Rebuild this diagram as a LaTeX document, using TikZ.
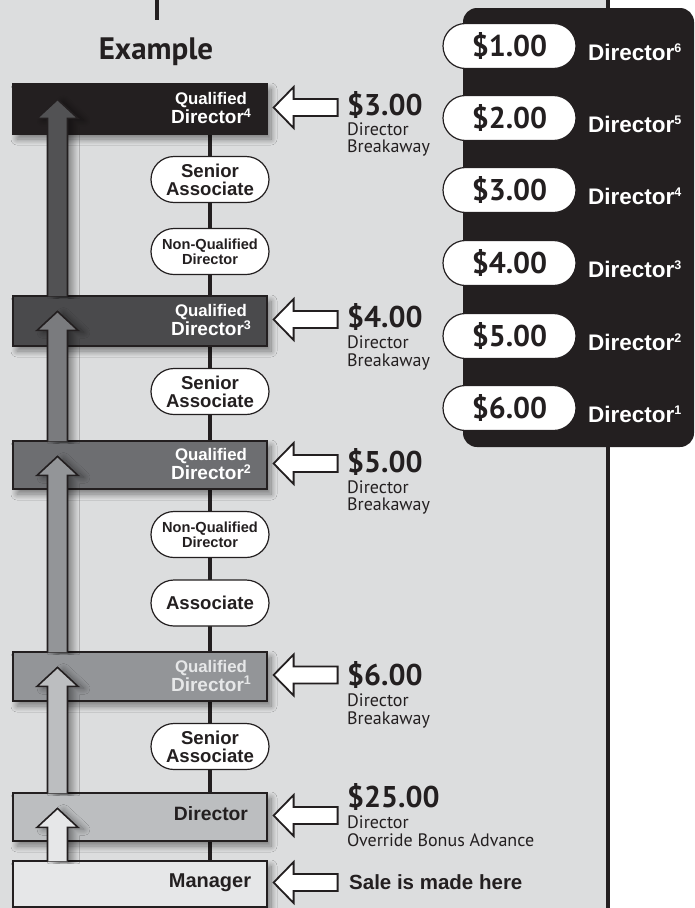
\documentclass[tikz,border=0pt]{standalone}
\usepackage{fontspec}
\setmainfont{Liberation Sans}
\newfontfamily\myr{PT Sans}
\usetikzlibrary{calc,shapes.misc,shadows.blur}
\definecolor{ink}{HTML}{231F20}
\definecolor{panelgray}{HTML}{DCDDDE}
\definecolor{cqdfour}{HTML}{231F20}
\definecolor{cqdthree}{HTML}{4A4A4C}
\definecolor{cqdtwo}{HTML}{6D6E71}
\definecolor{cqdone}{HTML}{939598}
\definecolor{cdir}{HTML}{BCBEC0}
\definecolor{cman}{HTML}{E6E7E8}
\definecolor{carrfour}{HTML}{525254}
\definecolor{carrthree}{HTML}{7A7B7E}
\newcommand\rsup[1]{\raisebox{7.5pt}{\fontsize{12.5}{12.5}\selectfont #1}}
\newcommand\bsup[1]{\raisebox{6.5pt}{\fontsize{12.5}{12.5}\selectfont #1}}
\tikzset{
  boxshadow/.style={blur shadow={shadow xshift=4pt, shadow yshift=-5pt, shadow blur radius=6pt, shadow blur steps=12, shadow opacity=45}},
  arrshadow/.style={blur shadow={shadow xshift=6pt, shadow yshift=-2pt, shadow blur radius=6pt, shadow blur steps=12, shadow opacity=40}},
  lvl/.style={rectangle, draw=ink, line width=1.2pt, minimum width=254pt, inner sep=0pt, boxshadow},
  lbl/.style={align=center, inner sep=0pt, font=\bfseries\fontsize{16.8}{19}\selectfont},
  opill/.style={rounded rectangle, draw=ink, line width=1.2pt, fill=white, minimum width=118pt, minimum height=46pt, inner sep=0pt, align=center, text=ink},
  rpill/.style={rounded rectangle, draw=ink, line width=1.2pt, fill=white, minimum width=133pt, minimum height=45pt, inner sep=0pt, text height=21pt, text depth=0pt, font=\myr\bfseries\fontsize{30}{30}\selectfont, text=ink},
  rdir/.style={anchor=base west, inner sep=0pt, text=white, font=\bfseries\fontsize{22.5}{22.5}\selectfont},
  pricebig/.style={anchor=base west, inner sep=0pt, font=\myr\bfseries\fontsize{30}{30}\selectfont, text=ink},
  pricesmall/.style={anchor=base west, inner sep=0pt, font=\myr\fontsize{18}{18}\selectfont, text=ink},
  spine/.style={draw=ink, line width=4pt},
  uparrowstyle/.style={draw=ink, line width=1.6pt, line join=miter, arrshadow},
  larrowstyle/.style={draw=ink, fill=white, line width=1.8pt, line join=miter},
}
\newcommand\uparr[3]{%
  \path[uparrowstyle, fill=#1]
    ($(ax |- #2.north)+(-10,1)$) -- ($(ax |- #3.north)+(-10,35)$) --
    ($(ax |- #3.north)+(-20.5,35)$) -- ($(ax |- #3.north)+(0,16)$) --
    ($(ax |- #3.north)+(20.5,35)$) -- ($(ax |- #3.north)+(10,35)$) --
    ($(ax |- #2.north)+(10,1)$);}
\newcommand\larr[1]{%
  \draw[larrowstyle] ($(#1.east)+(6,-1.5)$) -- ++(20,-20.5) -- ++(0,12) -- ++(44,0)
    -- ++(0,17) -- ++(-44,0) -- ++(0,12) -- cycle;}
\begin{document}
\begin{tikzpicture}[x=1pt,y=-1pt]
\useasboundingbox (0,0) rectangle (694,908);
\fill[white] (0,0) rectangle (694,908);
\fill[panelgray] (0,0) rectangle (608,908);
\coordinate (rtop) at (608,0);
\coordinate (rbot) at (608,908);
\draw[spine] (rtop) -- (rbot);
\coordinate (ttop) at (157,0);
\coordinate (tbot) at (157,20);
\draw[spine] (ttop) -- (tbot);
\fill[ink, rounded corners=14pt] (463,8) rectangle (694,447);

% spine behind the ladder
\coordinate (sptop) at (210,134);
\coordinate (spbot) at (210,861);
\draw[spine] (sptop) -- (spbot);

\coordinate (ax) at (57.5,0);
\node[font=\myr\bfseries\fontsize{31}{31}\selectfont, anchor=base, text=ink, inner sep=0pt] (ex) at (156,59) {Example};

% level boxes
\node[lvl, fill=cqdfour, minimum height=50pt] (qd4) at (140,109) {};
\node[lvl, fill=cqdthree, minimum height=50pt] (qd3) at (140,321) {};
\node[lvl, fill=cqdtwo, minimum height=48pt] (qd2) at (140,465) {};
\node[lvl, fill=cqdone, minimum height=49pt] (qd1) at (140,676.5) {};
\node[lvl, fill=cdir, minimum height=48pt] (dir) at (140,817) {};
\node[lvl, fill=cman, minimum height=46pt] (man) at (140,884) {};

% box labels
\node[lbl, text=white] (qd4t) at (211,108.4) {Qualified\\\fontsize{19}{19}\selectfont Director\bsup{4}};
\node[lbl, text=white] (qd3t) at (211,320.4) {Qualified\\\fontsize{19}{19}\selectfont Director\bsup{3}};
\node[lbl, text=white] (qd2t) at (211,464.4) {Qualified\\\fontsize{19}{19}\selectfont Director\bsup{2}};
\node[lbl, text=cman] (qd1t) at (211,675.9) {Qualified\\\fontsize{19}{19}\selectfont Director\bsup{1}};
\node[inner sep=0pt, text=ink, font=\bfseries\fontsize{19.3}{19}\selectfont] (dirt) at (211,814) {Director};
\node[inner sep=0pt, text=ink, font=\bfseries\fontsize{20}{20}\selectfont] (mant) at (210,883) {Manager};

% pills on the spine
\node[opill, font=\bfseries\fontsize{18.6}{18}\selectfont] (sa1) at (210,179.5) {Senior\\Associate};
\node[opill, font=\bfseries\fontsize{14.6}{15}\selectfont] (nq1) at (210,251.5) {Non-Qualified\\Director};
\node[opill, font=\bfseries\fontsize{18.6}{18}\selectfont] (sa2) at (210,391.5) {Senior\\Associate};
\node[opill, font=\bfseries\fontsize{14.6}{15}\selectfont] (nq2) at (210,534.5) {Non-Qualified\\Director};
\node[opill, font=\bfseries\fontsize{18.6}{18}\selectfont] (as1) at (210,603) {Associate};
\node[opill, font=\bfseries\fontsize{18.6}{18}\selectfont] (sa3) at (210,746.5) {Senior\\Associate};

% upward arrows
\uparr{cman}{man}{dir}
\uparr{cdir}{dir}{qd1}
\uparr{cqdone}{qd1}{qd2}
\uparr{carrthree}{qd2}{qd3}
\uparr{carrfour}{qd3}{qd4}

% left arrows
\larr{qd4}
\larr{qd3}
\larr{qd2}
\larr{qd1}
\larr{dir}
\larr{man}

% price labels
\node[pricebig] (p3) at (347,115) {\$3.00};
\node[pricesmall] (p3a) at (347,135) {Director};
\node[pricesmall] (p3b) at (347,152) {Breakaway};
\node[pricebig] (p4) at (347,327) {\$4.00};
\node[pricesmall] (p4a) at (347,348) {Director};
\node[pricesmall] (p4b) at (347,366) {Breakaway};
\node[pricebig] (p5) at (347,472) {\$5.00};
\node[pricesmall] (p5a) at (347,493) {Director};
\node[pricesmall] (p5b) at (347,510) {Breakaway};
\node[pricebig] (p6) at (347,685) {\$6.00};
\node[pricesmall] (p6a) at (347,706) {Director};
\node[pricesmall] (p6b) at (347,724) {Breakaway};
\node[pricebig] (p25) at (347,807) {\$25.00};
\node[pricesmall] (p25a) at (347,828) {Director};
\node[pricesmall] (p25b) at (347,846) {Override Bonus Advance};
\node[anchor=base west, inner sep=0pt, text=ink, font=\bfseries\fontsize{20.5}{20.5}\selectfont] (sale) at (349,889) {Sale is made here};

% right panel
\node[rpill] (r1) at (509.5,46) {\$1.00};
\node[rpill] (r2) at (509.5,118) {\$2.00};
\node[rpill] (r3) at (509.5,190) {\$3.00};
\node[rpill] (r4) at (509.5,263) {\$4.00};
\node[rpill] (r5) at (509.5,336) {\$5.00};
\node[rpill] (r6) at (509.5,408) {\$6.00};
\node[rdir] (d6) at (588,60) {Director\rsup{6}};
\node[rdir] (d5) at (588,132) {Director\rsup{5}};
\node[rdir] (d4) at (588,204) {Director\rsup{4}};
\node[rdir] (d3) at (588,277) {Director\rsup{3}};
\node[rdir] (d2) at (588,350) {Director\rsup{2}};
\node[rdir] (d1) at (588,422) {Director\rsup{1}};
\end{tikzpicture}
\end{document}
